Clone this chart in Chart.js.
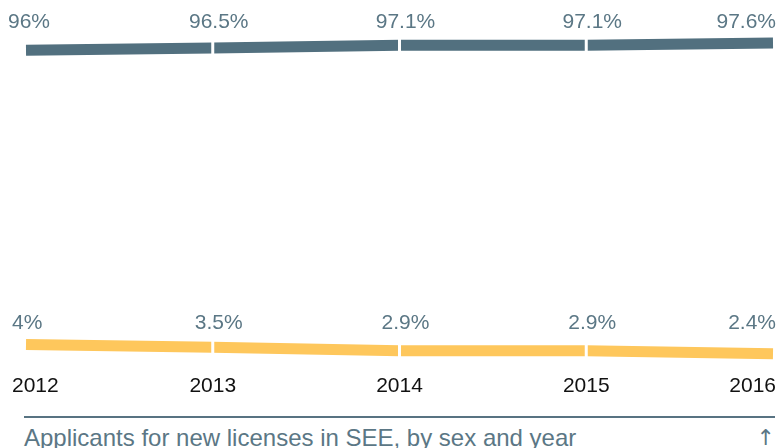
<!DOCTYPE html>
<html>
<head>
<meta charset="utf-8">
<script src="https://cdn.jsdelivr.net/npm/chart.js@4"></script>
<style>
  html, body {
    margin: 0;
    padding: 0;
    background: #fff;
    overflow: hidden;
  }
  #wrap {
    width: 778px;
    height: 448px;
    position: relative;
  }
  #chartBox {
    width: 778px;
    height: 400px;
    position: relative;
  }
  .caption {
    margin: 16px 3px 0 24px;
    border-top: 2px solid #587382;
    padding-top: 8px;
    font-family: "Liberation Sans", Arial, sans-serif;
    font-size: 24px;
    line-height: 24px;
    color: #5b7785;
    white-space: nowrap;
  }
  .caption .arrow {
    float: right;
    font-family: "DejaVu Sans", sans-serif;
    font-size: 22px;
  }
</style>
</head>
<body>
<div id="wrap">
  <div id="chartBox"><canvas id="lineChart"></canvas></div>
  <div class="caption">Applicants for new licenses in SEE, by sex and year<span class="arrow">↑</span></div>
</div>
<script>
// Data
const years = ["2012", "2013", "2014", "2015", "2016"];
const menShare = [96, 96.5, 97.1, 97.1, 97.6];
const womenShare = [4, 3.5, 2.9, 2.9, 2.4];
const menLabels = ["96%", "96.5%", "97.1%", "97.1%", "97.6%"];
const womenLabels = ["4%", "3.5%", "2.9%", "2.9%", "2.4%"];

const slate = "#52707f";
const yellow = "#fec75c";
const labelColor = "#5b7785";

// White cuts through the thick lines at every inner year
const gapPlugin = {
  id: "gaps",
  afterDatasetsDraw(chart) {
    const ctx = chart.ctx;
    const xScale = chart.scales.x;
    ctx.save();
    ctx.fillStyle = "#fff";
    chart.data.datasets.forEach((ds) => {
      const yScale = chart.scales[ds.yAxisID];
      for (let i = 1; i < ds.data.length - 1; i++) {
        const x = xScale.getPixelForValue(i);
        const y = yScale.getPixelForValue(ds.data[i]);
        ctx.fillRect(x - 1.5, y - 9, 3, 18);
      }
    });
    ctx.restore();
  },
};

// Value labels above each line and year labels below
const labelPlugin = {
  id: "labels",
  afterDraw(chart) {
    const ctx = chart.ctx;
    const xScale = chart.scales.x;
    const n = years.length;
    ctx.save();
    ctx.font = '21px "Liberation Sans", Arial, sans-serif';
    ctx.textBaseline = "alphabetic";

    chart.data.datasets.forEach((ds) => {
      const yScale = chart.scales[ds.yAxisID];
      const top = yScale.getPixelForValue(Math.max(...ds.data)) - 15;
      ctx.fillStyle = labelColor;
      ds.labelsText.forEach((txt, i) => {
        let x = xScale.getPixelForValue(i);
        if (i === 0) {
          ctx.textAlign = "left";
          x -= ds.firstShift;
        } else if (i === n - 1) {
          ctx.textAlign = "right";
          x += 3;
        } else {
          ctx.textAlign = "center";
          x += 6;
        }
        ctx.fillText(txt, x, top);
      });
    });

    ctx.fillStyle = "#111";
    years.forEach((yr, i) => {
      let x = xScale.getPixelForValue(i);
      if (i === 0) {
        ctx.textAlign = "left";
        x -= 14;
      } else if (i === n - 1) {
        ctx.textAlign = "right";
        x += 3;
      } else {
        ctx.textAlign = "center";
      }
      ctx.fillText(yr, x, chart.chartArea.bottom - 8);
    });
    ctx.restore();
  },
};

const ctxLine = document.getElementById("lineChart").getContext("2d");
new Chart(ctxLine, {
  type: "line",
  data: {
    labels: years,
    datasets: [
      {
        label: "Men",
        data: menShare,
        labelsText: menLabels,
        firstShift: 18,
        yAxisID: "yTop",
        borderColor: slate,
        borderWidth: 11,
        borderCapStyle: "butt",
        pointRadius: 0,
        tension: 0,
        fill: false,
        clip: false,
      },
      {
        label: "Women",
        data: womenShare,
        labelsText: womenLabels,
        firstShift: 14,
        yAxisID: "yBot",
        borderColor: yellow,
        borderWidth: 11,
        borderCapStyle: "butt",
        pointRadius: 0,
        tension: 0,
        fill: false,
        clip: false,
      },
    ],
  },
  options: {
    responsive: true,
    maintainAspectRatio: false,
    animation: false,
    layout: {
      padding: { left: 26, right: 5, top: 0, bottom: 0 },
    },
    plugins: {
      legend: { display: false },
      tooltip: { enabled: false },
    },
    scales: {
      x: {
        type: "category",
        offset: false,
        display: false,
      },
      yTop: {
        type: "linear",
        display: false,
        min: 19.35,
        max: 107.02,
      },
      yBot: {
        type: "linear",
        display: false,
        min: -5.66,
        max: 63.91,
      },
    },
  },
  plugins: [gapPlugin, labelPlugin],
});
</script>
</body>
</html>
